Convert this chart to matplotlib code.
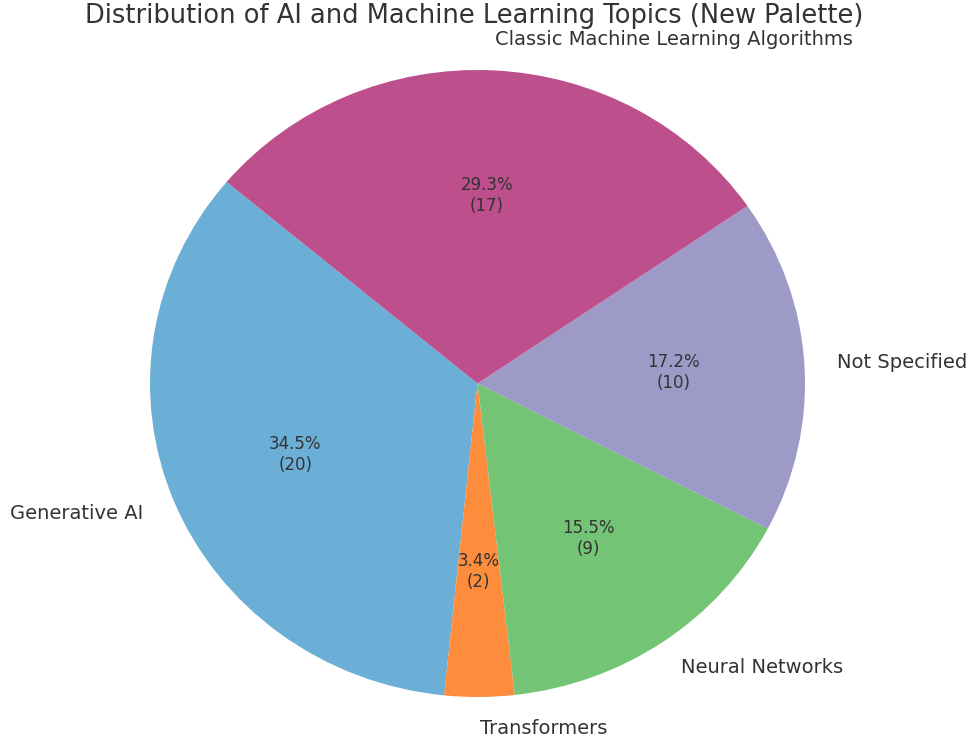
import matplotlib.pyplot as plt

# topic counts
topics = ['Generative AI', 'Transformers', 'Neural Networks', 'Not Specified',
          'Classic Machine Learning Algorithms']
counts = [20, 2, 9, 10, 17]
colors = ['#6baed6', '#fd8d3c', '#74c476', '#9e9ac8', '#bc4f8c']

total = sum(counts)


def fmt(pct):
    n = int(round(pct * total / 100.0))
    return f"{pct:.1f}%\n({n})"


fig = plt.figure(figsize=(9.68, 7.4), dpi=100)
ax = fig.add_axes([150 / 968, 1 - 697 / 740, 655 / 968, 627 / 740])

wedges, texts, autotexts = ax.pie(
    counts,
    labels=topics,
    colors=colors,
    autopct=fmt,
    startangle=140,
    textprops={'fontsize': 14, 'color': '#333333'},
)
for t in autotexts:
    t.set_fontsize(12)
    t.set_color('#333333')

ax.set_aspect('auto')
ax.set_xlim(-1, 1)
ax.set_ylim(-1, 1)

fig.text(0.49, 1 - 16 / 740, 'Distribution of AI and Machine Learning Topics (New Palette)',
         ha='center', va='center', fontsize=18.5, color='#333333')

plt.savefig('out.png', dpi=100)
